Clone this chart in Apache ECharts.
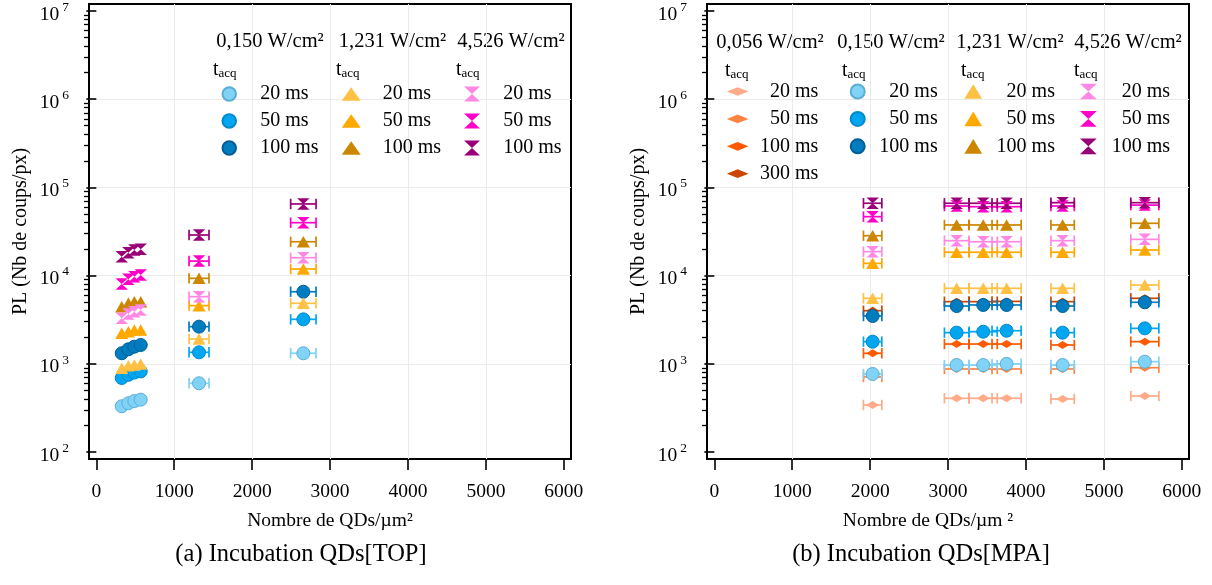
<!DOCTYPE html>
<html><head><meta charset="utf-8">
<script src="https://cdn.jsdelivr.net/npm/echarts@6/dist/echarts.min.js"></script>
<style>html,body{margin:0;padding:0;background:#fff}#c{width:1212px;height:585px}</style>
</head><body><div id="c"></div>
<script>
// ---------- data ----------
const X_TICKS = [0, 1000, 2000, 3000, 4000, 5000, 6000];
const Y_TICKS = [100, 1000, 10000, 100000, 1000000, 10000000];
const Y_MINOR = [200,300,400,500,600,700,800,900,
  2000,3000,4000,5000,6000,7000,8000,9000,
  20000,30000,40000,50000,60000,70000,80000,90000,
  200000,300000,400000,500000,600000,700000,800000,900000,
  2000000,3000000,4000000,5000000,6000000,7000000,8000000,9000000];

const TACQ_TOP = ['20 ms', '50 ms', '100 ms'];
const TACQ_056 = ['20 ms', '50 ms', '100 ms', '300 ms'];
const POWERS = ['0,056 W/cm²', '0,150 W/cm²', '1,231 W/cm²', '4,526 W/cm²'];

// (a) QDs[TOP]
const TOP_X    = [326, 411, 488, 570, 1318, 2657];
const TOP_XERR = [0, 0, 0, 0, 128, 163];
const TOP_P0150_20  = [330, 357, 378, 392, 601, 1316];
const TOP_P0150_50  = [690, 750, 795, 820, 1349, 3192];
const TOP_P0150_100 = [1316, 1460, 1563, 1633, 2637, 6561];
const TOP_P1231_20  = [889, 951, 968, 995, 1910, 4853];
const TOP_P1231_50  = [2218, 2312, 2415, 2415, 4565, 11885];
const TOP_P1231_100 = [4437, 4853, 5063, 5063, 9310, 24200];
const TOP_P4526_20  = [3281, 3672, 3899, 4074, 5768, 15950];
const TOP_P4526_50  = [8035, 9080, 9720, 10160, 14620, 39800];
const TOP_P4526_100 = [16370, 18190, 19490, 19850, 28840, 64900];

// (b) QDs[MPA]
const MPA_X    = [2032, 3110, 3451, 3751, 4470, 5525];
const MPA_XERR = [118, 157, 180, 187, 150, 180];
const MPA_P0056_20  = [341, 406, 406, 406, 399, 431];
const MPA_P0056_50  = [710, 873, 873, 873, 873, 903];
const MPA_P0056_100 = [1316, 1675, 1675, 1675, 1633, 1782];
const MPA_P0056_300 = [3998, 5063, 5063, 5100, 5063, 5530];
const MPA_P0150_20  = [766, 968, 968, 998, 968, 1057];
const MPA_P0150_50  = [1782, 2254, 2312, 2372, 2254, 2522];
const MPA_P0150_100 = [3483, 4518, 4643, 4643, 4518, 4982];
const MPA_P1231_20  = [5530, 7180, 7180, 7180, 7180, 7820];
const MPA_P1231_50  = [13770, 18380, 18380, 18380, 18380, 19490];
const MPA_P1231_100 = [28310, 37500, 37500, 37500, 37500, 39170];
const MPA_P4526_20  = [18680, 24880, 24200, 24200, 24880, 25770];
const MPA_P4526_50  = [46560, 61500, 60400, 60400, 61500, 63000];
const MPA_P4526_100 = [66100, 66100, 66100, 66100, 67100, 67100];

// ---------- styles ----------
const FONT = "'Liberation Serif', 'Times New Roman', serif";
const COL_056 = ['#ffaa88', '#ff8444', '#ff5a00', '#cc4600'];
const COL_150 = ['#80d2f6', '#00a6f0', '#007cc0'];
const BRD_150 = ['#5aaed6', '#0089cc', '#005f96'];
const COL_1231 = ['#ffc144', '#ffa800', '#cc8600'];
const COL_4526 = ['#ff88e4', '#ff00c8', '#990077'];

const SYM_TRI = 'path://M6.5,0L13,11.5L0,11.5Z';
const SYM_HG = 'path://M0,0L12.5,0L6.25,5.75ZM6.25,5.75L12.5,11.5L0,11.5Z';
const LEG_TRI_L = 'path://M9.5,0L19,13.3L0,13.3Z';
const LEG_HG_L = 'path://M0,0L16,0L8,7.5ZM8,7.5L16,15L0,15Z';
const LEG_DIA = 'path://M0,4.35L10.85,0L21.7,4.35L10.85,8.7Z';
const LEG_TRI_R = 'path://M8.85,0L17.7,14.7L0,14.7Z';
const LEG_HG_R = 'path://M0,0L16.7,0L8.35,7.85ZM8.35,7.85L16.7,15.7L0,15.7Z';

const X_MIN = -94, X_MAX = 6092;
const Y_MIN = 83.27, Y_MAX = 12006000;

const series = [];
function errRender(color) {
  return function (params, api) {
    const x = api.value(0), y = api.value(1), e = api.value(2);
    if (!e) return null;
    const a = api.coord([x - e, y]), b = api.coord([x + e, y]);
    const h = 5.2, st = {stroke: color, lineWidth: 1.7};
    return {type: 'group', children: [
      {type: 'line', shape: {x1: a[0], y1: a[1], x2: b[0], y2: b[1]}, style: st},
      {type: 'line', shape: {x1: a[0], y1: a[1] - h, x2: a[0], y2: a[1] + h}, style: st},
      {type: 'line', shape: {x1: b[0], y1: b[1] - h, x2: b[0], y2: b[1] + h}, style: st}
    ]};
  };
}
function add(panel, name, xs, errs, ys, color, symbol, size, border) {
  const data = xs.map((x, i) => [x, ys[i], errs[i]]);
  series.push({
    type: 'custom', name: name + '|err', xAxisIndex: panel, yAxisIndex: panel * 2,
    coordinateSystem: 'cartesian2d', renderItem: errRender(color), data: data,
    encode: {x: 0, y: 1}, silent: true, clip: false
  });
  series.push({
    type: 'scatter', name: name, xAxisIndex: panel, yAxisIndex: panel * 2,
    data: data.map(d => [d[0], d[1]]), symbol: symbol, symbolSize: size,
    itemStyle: {color: color, opacity: 1, borderColor: border || color, borderWidth: border ? 1 : 0},
    emphasis: {disabled: true}, silent: true
  });
}
const TRI = [13, 11.5], HG = [12.5, 11.5], DIA = [13, 8], CIR = 13;
// panel 0 : TOP
add(0, 'L|150|20 ms', TOP_X, TOP_XERR, TOP_P0150_20, COL_150[0], 'circle', CIR, BRD_150[0]);
add(0, 'L|150|50 ms', TOP_X, TOP_XERR, TOP_P0150_50, COL_150[1], 'circle', CIR, BRD_150[1]);
add(0, 'L|150|100 ms', TOP_X, TOP_XERR, TOP_P0150_100, COL_150[2], 'circle', CIR, BRD_150[2]);
add(0, 'L|1231|20 ms', TOP_X, TOP_XERR, TOP_P1231_20, COL_1231[0], SYM_TRI, TRI);
add(0, 'L|1231|50 ms', TOP_X, TOP_XERR, TOP_P1231_50, COL_1231[1], SYM_TRI, TRI);
add(0, 'L|1231|100 ms', TOP_X, TOP_XERR, TOP_P1231_100, COL_1231[2], SYM_TRI, TRI);
add(0, 'L|4526|20 ms', TOP_X, TOP_XERR, TOP_P4526_20, COL_4526[0], SYM_HG, HG);
add(0, 'L|4526|50 ms', TOP_X, TOP_XERR, TOP_P4526_50, COL_4526[1], SYM_HG, HG);
add(0, 'L|4526|100 ms', TOP_X, TOP_XERR, TOP_P4526_100, COL_4526[2], SYM_HG, HG);
// panel 1 : MPA
add(1, 'R|056|20 ms', MPA_X, MPA_XERR, MPA_P0056_20, COL_056[0], 'diamond', DIA);
add(1, 'R|056|50 ms', MPA_X, MPA_XERR, MPA_P0056_50, COL_056[1], 'diamond', DIA);
add(1, 'R|056|100 ms', MPA_X, MPA_XERR, MPA_P0056_100, COL_056[2], 'diamond', DIA);
add(1, 'R|056|300 ms', MPA_X, MPA_XERR, MPA_P0056_300, COL_056[3], 'diamond', DIA);
add(1, 'R|150|20 ms', MPA_X, MPA_XERR, MPA_P0150_20, COL_150[0], 'circle', CIR, BRD_150[0]);
add(1, 'R|150|50 ms', MPA_X, MPA_XERR, MPA_P0150_50, COL_150[1], 'circle', CIR, BRD_150[1]);
add(1, 'R|150|100 ms', MPA_X, MPA_XERR, MPA_P0150_100, COL_150[2], 'circle', CIR, BRD_150[2]);
add(1, 'R|1231|20 ms', MPA_X, MPA_XERR, MPA_P1231_20, COL_1231[0], SYM_TRI, TRI);
add(1, 'R|1231|50 ms', MPA_X, MPA_XERR, MPA_P1231_50, COL_1231[1], SYM_TRI, TRI);
add(1, 'R|1231|100 ms', MPA_X, MPA_XERR, MPA_P1231_100, COL_1231[2], SYM_TRI, TRI);
add(1, 'R|4526|20 ms', MPA_X, MPA_XERR, MPA_P4526_20, COL_4526[0], SYM_HG, HG);
add(1, 'R|4526|50 ms', MPA_X, MPA_XERR, MPA_P4526_50, COL_4526[1], SYM_HG, HG);
add(1, 'R|4526|100 ms', MPA_X, MPA_XERR, MPA_P4526_100, COL_4526[2], SYM_HG, HG);

// ---------- legends ----------
// left = left edge of the icon (legend box is laid out from the drawn content)
function legend(prefix, tacq, icon, left, top, w, h, gap, boxW) {
  return {
    orient: 'vertical', left: left, top: top, padding: 0, itemGap: gap,
    itemWidth: w, itemHeight: h, selectedMode: false,
    data: tacq.map(t => ({name: prefix + '|' + t, icon: icon})),
    formatter: n => {
      const t = n.split('|')[2];
      return boxW ? '{r|' + t + '}' : t;
    },
    textStyle: {fontFamily: FONT, fontSize: 20, lineHeight: 20, color: '#000',
      rich: {r: {fontFamily: FONT, fontSize: 20, lineHeight: 20, width: boxW || 0, align: 'right', color: '#000'}}}
  };
}
const legends = [
  legend('L|150', TACQ_TOP, 'circle', 221.5, 84, 52, 13.5, 7, 0),
  legend('L|1231', TACQ_TOP, LEG_TRI_L, 341.7, 84, 53, 13.3, 7, 0),
  legend('L|4526', TACQ_TOP, LEG_HG_L, 464, 84, 52.6, 15, 7, 0),
  legend('R|056', TACQ_056, LEG_DIA, 726.8, 81.5, 35.2, 8.7, 7.4, 58),
  legend('R|150', TACQ_TOP, 'circle', 849.7, 81.5, 34, 14, 7.4, 58),
  legend('R|1231', TACQ_TOP, LEG_TRI_R, 964.4, 81.5, 37.4, 14.7, 7.4, 58),
  legend('R|4526', TACQ_TOP, LEG_HG_R, 1080, 81.5, 37.4, 15.7, 7.4, 58)
];

// ---------- headers / captions ----------
function txt(x, y, text, size, align) {
  return {type: 'text', x: x, y: y, silent: true,
    style: {text: text, fontFamily: FONT, fontSize: size, fill: '#000', align: align || 'center', verticalAlign: 'middle'}};
}
function tacq(x, y) {
  return {type: 'text', x: x, y: y, silent: true,
    style: {text: '{t|t}{s|acq}', align: 'left', verticalAlign: 'middle',
      rich: {t: {fontFamily: FONT, fontSize: 20, fill: '#000'},
             s: {fontFamily: FONT, fontSize: 13, fill: '#000', padding: [7, 0, 0, 0]}}}};
}
const graphic = [
  txt(270, 42, POWERS[1], 20.5), txt(392.5, 42, POWERS[2], 20.5), txt(511, 42, POWERS[3], 20.5),
  tacq(213, 70), tacq(336, 70), tacq(456, 70),
  txt(770, 43, POWERS[0], 20.5), txt(891, 43, POWERS[1], 20.5), txt(1010, 43, POWERS[2], 20.5), txt(1128, 43, POWERS[3], 20.5),
  tacq(725, 71), tacq(842, 71), tacq(961, 71), tacq(1074, 71),
  txt(301, 555, '(a) Incubation QDs[TOP]', 24.5), txt(921, 555, '(b) Incubation QDs[MPA]', 24.5)
];

// ---------- axes ----------
function xAxis(grid, name, namePad) {
  return {gridIndex: grid, type: 'value', min: X_MIN, max: X_MAX, position: 'bottom',
    axisLine: {show: false},
    axisTick: {show: true, length: 11, customValues: X_TICKS, lineStyle: {color: '#000', width: 1.6}},
    axisLabel: {customValues: X_TICKS, margin: 22.5, fontFamily: FONT, fontSize: 19.5, color: '#000',
      formatter: v => String(v)},
    splitLine: {show: true, showMinLine: false, showMaxLine: false, lineStyle: {color: '#ebebeb', width: 1}},
    name: name, nameLocation: 'middle', nameGap: 52,
    nameTextStyle: {fontFamily: FONT, fontSize: 19.5, color: '#000', padding: namePad || 0}};
}
function yMajor(grid) {
  return {gridIndex: grid, type: 'log', min: Y_MIN, max: Y_MAX, position: 'left',
    axisLine: {show: false},
    axisTick: {show: true, length: 10, customValues: Y_TICKS, lineStyle: {color: '#000', width: 1.6}},
    axisLabel: {customValues: Y_TICKS, margin: 20, color: '#000',
      formatter: v => '{b|10}{s|' + Math.round(Math.log10(v)) + '}',
      rich: {b: {fontFamily: FONT, fontSize: 19.5, padding: [7, 0, 0, 0], color: '#000'},
             s: {fontFamily: FONT, fontSize: 13.5, padding: [0, 0, 7.5, 3], color: '#000'}}},
    splitLine: {show: true, showMinLine: false, showMaxLine: false, lineStyle: {color: '#ebebeb', width: 1}},
    name: 'PL (Nb de coups/px)', nameLocation: 'middle', nameGap: 58, nameRotate: 90,
    nameTextStyle: {fontFamily: FONT, fontSize: 20, color: '#000'}};
}
function yMinor(grid) {
  return {gridIndex: grid, type: 'log', min: Y_MIN, max: Y_MAX, position: 'left',
    axisLine: {show: false}, axisLabel: {show: false}, splitLine: {show: false},
    axisTick: {show: true, length: 5, customValues: Y_MINOR, lineStyle: {color: '#000', width: 1.3}}};
}

const option = {
  animation: false,
  backgroundColor: '#fff',
  grid: [
    {left: 89, top: 4, width: 482, height: 455, show: true, borderColor: '#000', borderWidth: 2, backgroundColor: 'transparent'},
    {left: 707, top: 4, width: 482, height: 455, show: true, borderColor: '#000', borderWidth: 2, backgroundColor: 'transparent'}
  ],
  xAxis: [xAxis(0, 'Nombre de QDs/µm²'), xAxis(1, 'Nombre de QDs/µm ²', [0, 40, 0, 0])],
  yAxis: [yMajor(0), yMinor(0), yMajor(1), yMinor(1)],
  legend: legends,
  graphic: graphic,
  series: series
};
const chart = echarts.init(document.getElementById('c'), null, {renderer: 'canvas'});
chart.setOption(option);
</script></body></html>
